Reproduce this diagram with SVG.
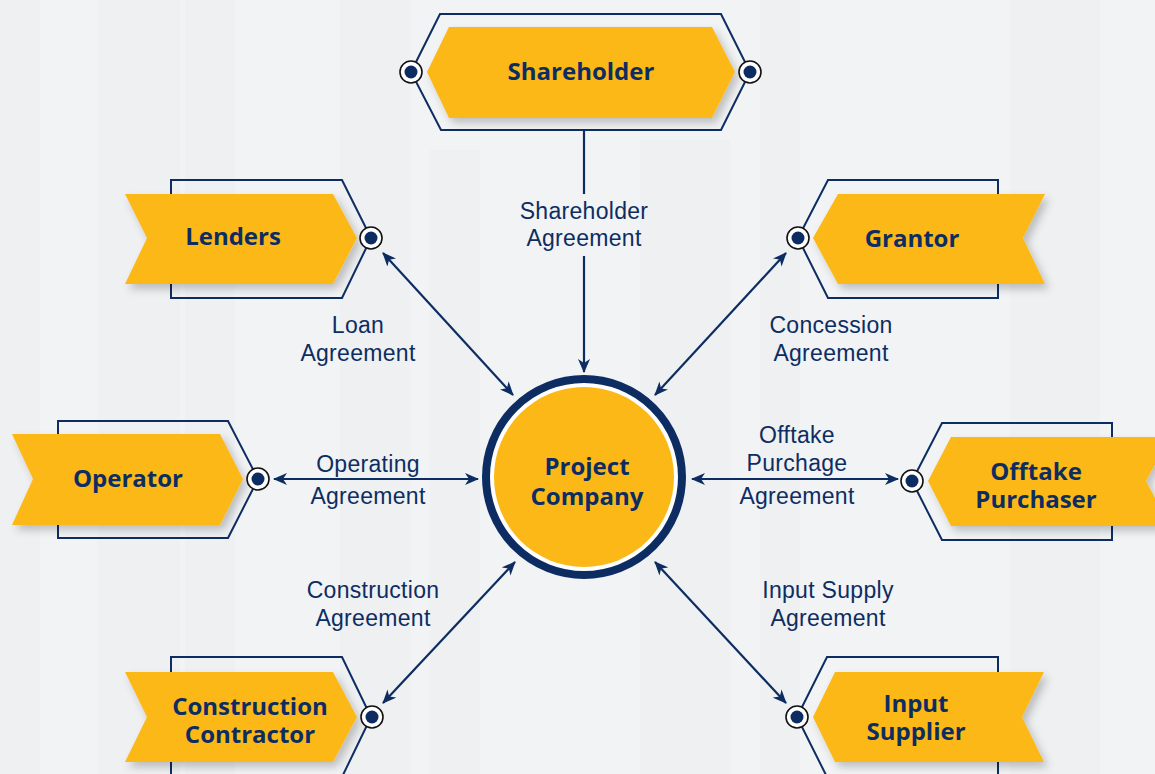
<svg xmlns="http://www.w3.org/2000/svg" width="1155" height="774" viewBox="0 0 1155 774">
  <defs>
    <style>
      .bg { fill: #f1f3f5; }
      .bld { fill: #e9ecef; opacity: 0.35; }
      .frame { fill: none; stroke: #0d2d62; stroke-width: 2; stroke-linejoin: miter; }
      .tag { fill: #fcb817; filter: url(#shadow); }
      .port { fill: #ffffff; stroke: #111111; stroke-width: 1.6; }
      .dot { fill: #0d2d62; }
      .name { font-family: "Open Sans", "Noto Sans", "DejaVu Sans", sans-serif; font-weight: 700; font-size: 24px; fill: #0d2d62; text-anchor: middle; }
      .edge { fill: none; stroke: #0d2d62; stroke-width: 2.2; }
      .lbl { font-family: "Liberation Sans", Arial, sans-serif; font-size: 23px; fill: #0d2d62; text-anchor: middle; letter-spacing: 0.3px; }
    </style>
    <filter id="shadow" x="-10%" y="-20%" width="125%" height="150%">
      <feDropShadow dx="4" dy="5" stdDeviation="4" flood-color="#000000" flood-opacity="0.22"/>
    </filter>
    <marker id="arrow" viewBox="0 0 14 12" refX="13" refY="6" markerWidth="14" markerHeight="12" markerUnits="userSpaceOnUse" orient="auto-start-reverse">
      <path d="M0,0 L14,6 L0,12 L4,6 z" fill="#0d2d62"/>
    </marker>
  </defs>

  <!-- pale city backdrop -->
  <rect class="bg" x="0" y="0" width="1155" height="774"/>
  <g id="backdrop">
    <rect class="bld" x="0" y="0" width="40" height="774"/>
    <rect class="bld" x="98" y="0" width="82" height="774"/>
    <rect class="bld" x="185" y="0" width="50" height="774"/>
    <rect class="bld" x="340" y="0" width="70" height="774"/>
    <rect class="bld" x="430" y="150" width="50" height="624"/>
    <rect class="bld" x="640" y="140" width="90" height="634"/>
    <rect class="bld" x="760" y="0" width="40" height="774"/>
    <rect class="bld" x="1010" y="0" width="90" height="774"/>
  </g>

  <!-- connectors -->
  <g id="connectors">
    <line class="edge" x1="584" y1="130" x2="584" y2="194"/>
    <line class="edge" x1="584" y1="256" x2="584" y2="372" marker-end="url(#arrow)"/>
    <line class="edge" x1="383" y1="253" x2="513" y2="395" marker-start="url(#arrow)" marker-end="url(#arrow)"/>
    <line class="edge" x1="786" y1="253" x2="655" y2="395" marker-start="url(#arrow)" marker-end="url(#arrow)"/>
    <line class="edge" x1="274" y1="479" x2="478" y2="479" marker-start="url(#arrow)" marker-end="url(#arrow)"/>
    <line class="edge" x1="692" y1="479" x2="898" y2="479" marker-start="url(#arrow)" marker-end="url(#arrow)"/>
    <line class="edge" x1="383" y1="703" x2="515" y2="562" marker-start="url(#arrow)" marker-end="url(#arrow)"/>
    <line class="edge" x1="786" y1="703" x2="655" y2="562" marker-start="url(#arrow)" marker-end="url(#arrow)"/>

    <text class="lbl" x="584" y="219">Shareholder</text>
    <text class="lbl" x="584" y="246">Agreement</text>
    <text class="lbl" x="358" y="333">Loan</text>
    <text class="lbl" x="358" y="361">Agreement</text>
    <text class="lbl" x="831" y="333">Concession</text>
    <text class="lbl" x="831" y="361">Agreement</text>
    <text class="lbl" x="368" y="472">Operating</text>
    <text class="lbl" x="368" y="504">Agreement</text>
    <text class="lbl" x="797" y="443">Offtake</text>
    <text class="lbl" x="797" y="471">Purchage</text>
    <text class="lbl" x="797" y="504">Agreement</text>
    <text class="lbl" x="373" y="598">Construction</text>
    <text class="lbl" x="373" y="626">Agreement</text>
    <text class="lbl" x="828" y="598">Input Supply</text>
    <text class="lbl" x="828" y="626">Agreement</text>
  </g>

  <!-- Shareholder -->
  <g id="shareholder">
    <polygon class="frame" points="440,14 721,14 750,72 721,130 441,130 411,72"/>
    <polygon class="tag" points="449,27 712,27 735,72 712,118 449,118 427,72"/>
    <circle class="port" cx="411" cy="72" r="11"/>
    <circle class="dot" cx="411" cy="72" r="6.5"/>
    <circle class="port" cx="750" cy="72" r="11"/>
    <circle class="dot" cx="750" cy="72" r="6.5"/>
    <text class="name" x="581" y="80">Shareholder</text>
  </g>

  <!-- Lenders -->
  <g id="lenders">
    <polygon class="frame" points="171,180 342,180 371,238 342,298 171,298"/>
    <polygon class="tag" points="125,194 333,194 357,238 333,284 125,284 147,238"/>
    <circle class="port" cx="371" cy="238" r="11"/>
    <circle class="dot" cx="371" cy="238" r="6.5"/>
    <text class="name" x="233" y="245">Lenders</text>
  </g>

  <!-- Grantor -->
  <g id="grantor">
    <polygon class="frame" points="998,180 828,180 798,238 828,298 998,298"/>
    <polygon class="tag" points="1045,194 838,194 813,238 838,284 1045,284 1023,238"/>
    <circle class="port" cx="798" cy="238" r="11"/>
    <circle class="dot" cx="798" cy="238" r="6.5"/>
    <text class="name" x="912" y="247">Grantor</text>
  </g>

  <!-- Operator -->
  <g id="operator">
    <polygon class="frame" points="58,421 228,421 258,479 228,538 58,538"/>
    <polygon class="tag" points="12,434 220,434 243,479 220,525 12,525 33,479"/>
    <circle class="port" cx="258" cy="479" r="11"/>
    <circle class="dot" cx="258" cy="479" r="6.5"/>
    <text class="name" x="128" y="487">Operator</text>
  </g>

  <!-- Offtake Purchaser -->
  <g id="offtake-purchaser">
    <polygon class="frame" points="1112,423 942,423 912,481 942,540 1112,540"/>
    <polygon class="tag" points="1170,437 951,437 928,481 951,526 1170,526 1146,481"/>
    <circle class="port" cx="912" cy="481" r="11"/>
    <circle class="dot" cx="912" cy="481" r="6.5"/>
    <text class="name" x="1036" y="480">Offtake</text>
    <text class="name" x="1036" y="508">Purchaser</text>
  </g>

  <!-- Construction Contractor -->
  <g id="construction-contractor">
    <polygon class="frame" points="171,790 171,657 342,657 371,717 342,777"/>
    <polygon class="tag" points="125,672 333,672 357,717 333,762 125,762 147,717"/>
    <circle class="port" cx="372" cy="717" r="11"/>
    <circle class="dot" cx="372" cy="717" r="6.5"/>
    <text class="name" x="250" y="715">Construction</text>
    <text class="name" x="250" y="743">Contractor</text>
  </g>

  <!-- Input Supplier -->
  <g id="input-supplier">
    <polygon class="frame" points="998,790 998,657 827,657 797,717 827,777"/>
    <polygon class="tag" points="1044,672 835,672 813,717 835,762 1044,762 1022,717"/>
    <circle class="port" cx="797" cy="717" r="11"/>
    <circle class="dot" cx="797" cy="717" r="6.5"/>
    <text class="name" x="916" y="712">Input</text>
    <text class="name" x="916" y="740">Supplier</text>
  </g>

  <!-- Project Company hub -->
  <g id="project-company">
    <circle cx="584" cy="477" r="102" fill="#ffffff"/>
    <circle cx="584" cy="477" r="98" fill="none" stroke="#0d2d62" stroke-width="8"/>
    <circle cx="584" cy="477" r="90" fill="#fcb817"/>
    <text class="name" x="587" y="475">Project</text>
    <text class="name" x="587" y="505">Company</text>
  </g>
</svg>
